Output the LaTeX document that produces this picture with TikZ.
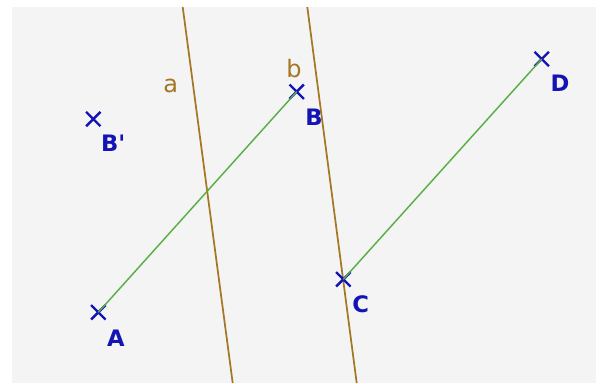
\documentclass[tikz,border=0pt]{standalone}
\usepackage{fontspec}
\setmainfont{DejaVu Sans}
\usetikzlibrary{shapes.misc}
\definecolor{ptblue}{RGB}{20,20,180}
\definecolor{linebrown}{RGB}{165,118,35}
\definecolor{seggreen}{RGB}{90,175,70}
\definecolor{bggray}{RGB}{244,244,244}
\tikzset{
  ptmark/.style={draw=ptblue,shape=cross out,minimum size=9pt,inner sep=0pt,line width=1.8pt},
  ptlabel/.style={text=ptblue,font=\bfseries\fontsize{17}{17}\selectfont,inner sep=0pt},
  parline/.style={draw=linebrown,line width=1.3pt},
  linelabel/.style={text=linebrown,font=\fontsize{18}{18}\selectfont,inner sep=0pt},
  segline/.style={draw=seggreen,line width=1.1pt}
}

\begin{document}
\begin{tikzpicture}[x=0.75pt,y=-0.75pt]
  \useasboundingbox (0,0) rectangle (605,383);
  \fill[bggray] (12,7) rectangle (596,383);
  % the two parallel lines
  \coordinate (a1) at (182.7,7);
  \coordinate (a2) at (232.7,383);
  \coordinate (b1) at (307.3,7);
  \coordinate (b2) at (356.7,383);
  \draw[parline] (a1) -- (a2);
  \draw[parline] (b1) -- (b2);
  \node[linelabel] (la) at (170.7,86) {a};
  \node[linelabel] (lb) at (294,69) {b};
  % points
  \node[ptmark] (A) at (98.3,312.3) {};
  \node[ptmark] (B) at (296.7,91.7) {};
  \node[ptmark] (C) at (343.3,279.3) {};
  \node[ptmark] (D) at (541.7,59) {};
  \node[ptmark] (Bp) at (93.3,119) {};
  \draw[segline] (A.center) -- (B.center);
  \draw[segline] (C.center) -- (D.center);
  \node[ptlabel] (lA) at (116,338) {A};
  \node[ptlabel] (lB) at (314,117) {B};
  \node[ptlabel] (lC) at (360.7,304) {C};
  \node[ptlabel] (lD) at (560,83.3) {D};
  \node[ptlabel] (lBp) at (113.3,143.3) {B\textquotesingle};
\end{tikzpicture}
\end{document}
